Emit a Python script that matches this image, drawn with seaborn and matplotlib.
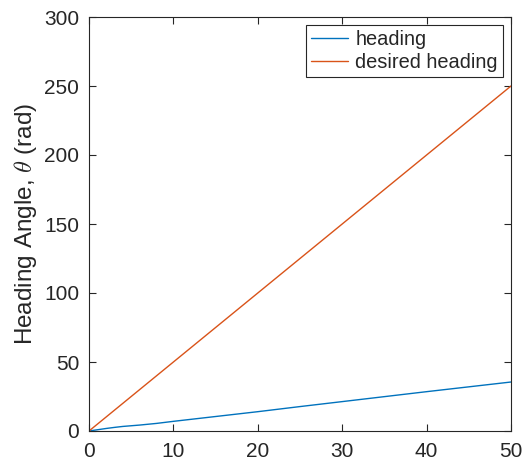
import numpy as np
import pandas as pd
import matplotlib
matplotlib.use("Agg")
import matplotlib.pyplot as plt
import seaborn as sns

# time samples and heading values (rad)
t = [0, 1, 2, 3, 4, 5, 6, 8, 10, 15, 20, 25, 30, 35, 40, 45, 50]
heading = [0, 0.9, 1.8, 2.6, 3.3, 3.8, 4.3, 5.5, 7.0, 10.5, 14.0, 17.7, 21.3, 24.9, 28.5, 32.0, 35.5]
desired = [0, 5, 10, 15, 20, 25, 30, 40, 50, 75, 100, 125, 150, 175, 200, 225, 250]

series_names = ["heading", "desired heading"]
colors = ["#0072BD", "#D95319"]

df = pd.concat([
    pd.DataFrame({"t": t, "value": heading, "series": series_names[0]}),
    pd.DataFrame({"t": t, "value": desired, "series": series_names[1]}),
])

sns.set_style("white")
plt.rcParams["font.family"] = ["Liberation Sans", "DejaVu Sans"]
plt.rcParams["mathtext.fontset"] = "cm"

fig = plt.figure(figsize=(5.31, 4.66), dpi=100)
ax = fig.add_axes([89 / 531, 35 / 466, 422 / 531, 414 / 466])

sns.lineplot(data=df, x="t", y="value", hue="series", palette=colors,
             linewidth=1.0, ax=ax, sort=False)

ax.set_xlim(0, 50)
ax.set_ylim(0, 300)
ax.set_xticks(range(0, 51, 10))
ax.set_yticks(range(0, 301, 50))
ax.set_xlabel("")
ax.set_ylabel(r"Heading Angle, $\theta$ (rad)", fontsize=17.5, color="#262626", labelpad=4)

edge = "#262626"
for s in ax.spines.values():
    s.set_visible(True)
    s.set_color(edge)
    s.set_linewidth(0.8)
ax.tick_params(direction="in", length=5, width=0.8, colors=edge, labelsize=15,
               top=True, right=True, bottom=True, left=True,
               labeltop=False, labelright=False)
ax.tick_params(axis="x", pad=8)
ax.tick_params(axis="y", pad=7)

leg = ax.legend(loc="upper right", fontsize=14.4, frameon=True, fancybox=False,
                edgecolor=edge, framealpha=1, handlelength=1.85, handletextpad=0.35,
                borderpad=0.25, labelspacing=0.22, borderaxespad=0.4)
leg.get_frame().set_linewidth(0.8)

fig.savefig("out.png", dpi=100, facecolor="white")
